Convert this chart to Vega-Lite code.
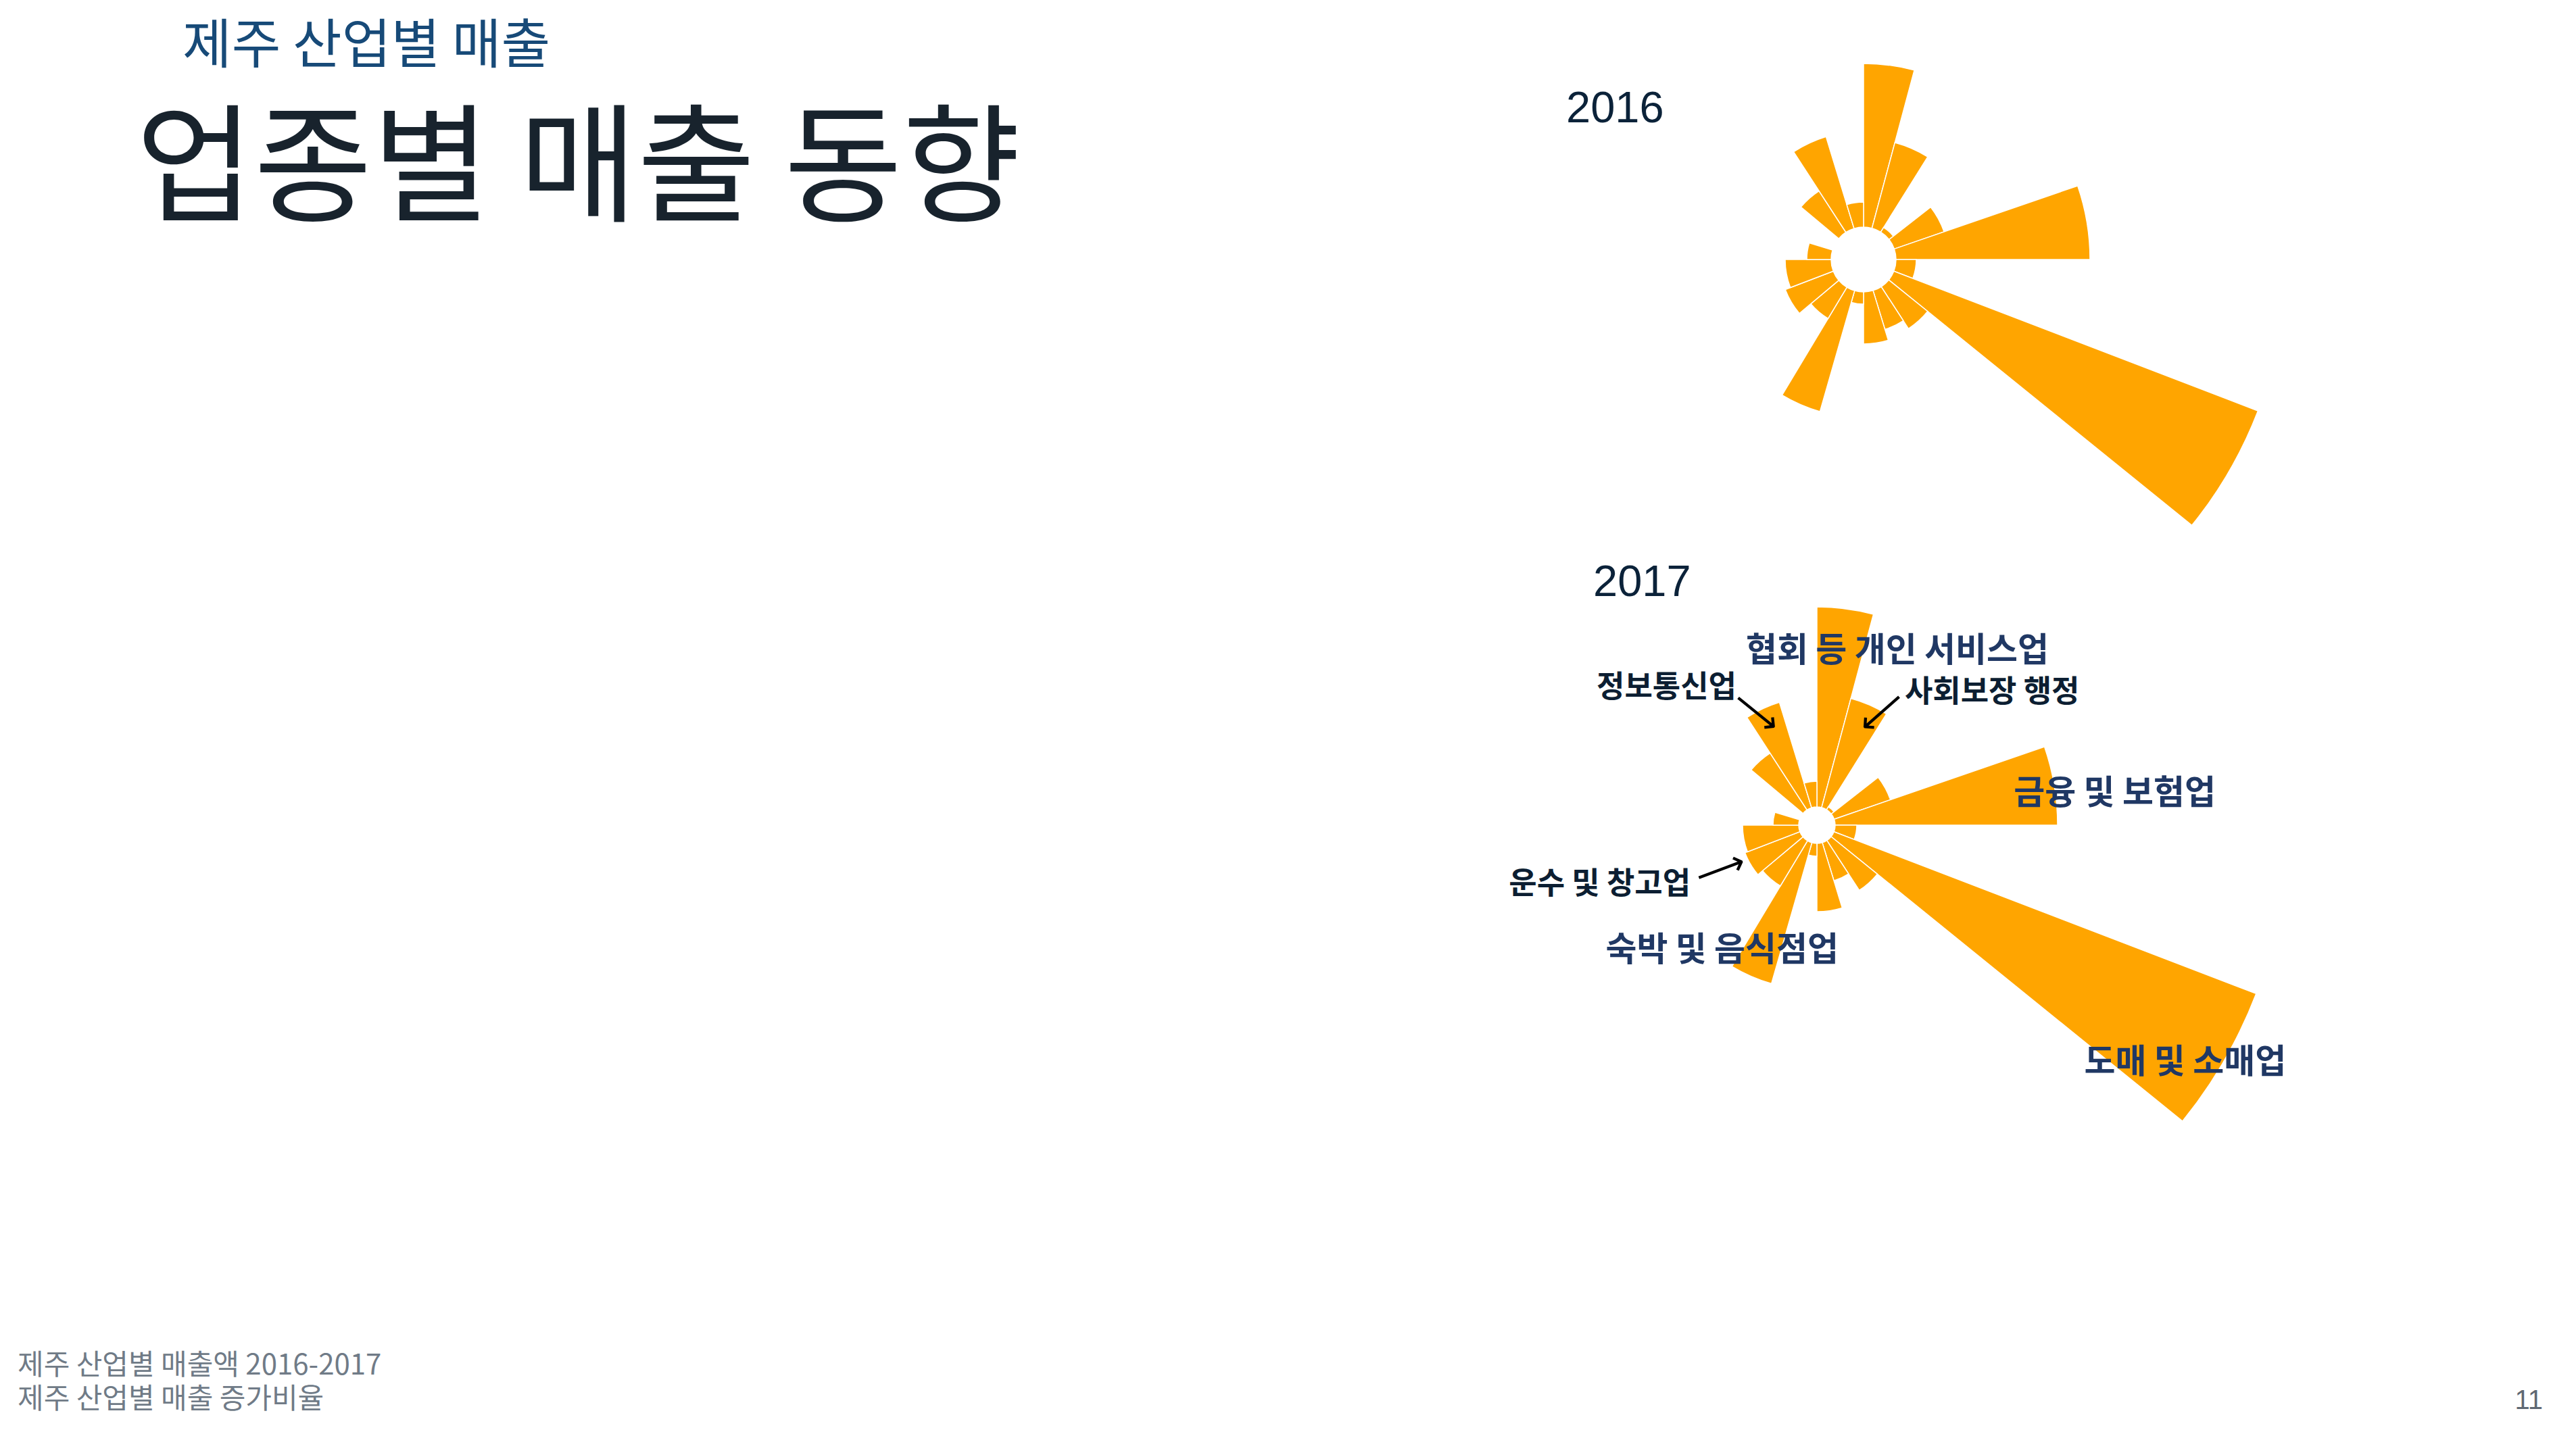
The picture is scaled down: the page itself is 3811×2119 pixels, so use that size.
{
  "$schema": "https://vega.github.io/schema/vega-lite/v6.json",
  "background": "white",
  "padding": {"left": 26, "top": 0, "right": 0, "bottom": 20},
  "config": {"view": {"stroke": null}},
  "datasets": {
    "sales": [
      {"year": 2016, "order": 1, "industry": "협회 및 단체, 수리 및 기타 개인 서비스업", "weight": 15, "value": 242},
      {"year": 2016, "order": 2, "industry": "공공 행정, 국방 및 사회보장 행정", "weight": 17, "value": 131},
      {"year": 2016, "order": 3, "industry": "광업", "weight": 20, "value": 8},
      {"year": 2016, "order": 4, "industry": "교육 서비스업", "weight": 19, "value": 78},
      {"year": 2016, "order": 5, "industry": "금융 및 보험업", "weight": 19, "value": 287},
      {"year": 2016, "order": 6, "industry": "농업, 임업 및 어업", "weight": 21, "value": 30},
      {"year": 2016, "order": 7, "industry": "도매 및 소매업", "weight": 18, "value": 577},
      {"year": 2016, "order": 8, "industry": "보건업 및 사회복지 서비스업", "weight": 18, "value": 74},
      {"year": 2016, "order": 9, "industry": "부동산업", "weight": 16, "value": 60},
      {"year": 2016, "order": 10, "industry": "사업시설 관리, 사업 지원 및 임대 서비스업", "weight": 17, "value": 77},
      {"year": 2016, "order": 11, "industry": "수도, 하수 및 폐기물 처리, 원료 재생업", "weight": 16, "value": 18},
      {"year": 2016, "order": 12, "industry": "숙박 및 음식점업", "weight": 15, "value": 186},
      {"year": 2016, "order": 13, "industry": "예술, 스포츠 및 여가관련 서비스업", "weight": 19, "value": 54},
      {"year": 2016, "order": 14, "industry": "운수 및 창고업", "weight": 19, "value": 76},
      {"year": 2016, "order": 15, "industry": "전기, 가스, 증기 및 공기조절 공급업", "weight": 21, "value": 68},
      {"year": 2016, "order": 16, "industry": "전문, 과학 및 기술 서비스업", "weight": 17, "value": 36},
      {"year": 2016, "order": 17, "industry": "국제 및 외국기관", "weight": 23, "value": 0},
      {"year": 2016, "order": 18, "industry": "건설업", "weight": 17, "value": 73},
      {"year": 2016, "order": 19, "industry": "정보통신업", "weight": 16, "value": 142},
      {"year": 2016, "order": 20, "industry": "제조업", "weight": 17, "value": 37},
      {"year": 2017, "order": 1, "industry": "협회 및 단체, 수리 및 기타 개인 서비스업", "weight": 15, "value": 296, "label": "협회 등 개인 서비스업"},
      {"year": 2017, "order": 2, "industry": "공공 행정, 국방 및 사회보장 행정", "weight": 17, "value": 167, "label": "사회보장 행정"},
      {"year": 2017, "order": 3, "industry": "광업", "weight": 20, "value": 5},
      {"year": 2017, "order": 4, "industry": "교육 서비스업", "weight": 19, "value": 88},
      {"year": 2017, "order": 5, "industry": "금융 및 보험업", "weight": 19, "value": 329, "label": "금융 및 보험업"},
      {"year": 2017, "order": 6, "industry": "농업, 임업 및 어업", "weight": 21, "value": 32},
      {"year": 2017, "order": 7, "industry": "도매 및 소매업", "weight": 18, "value": 669, "label": "도매 및 소매업"},
      {"year": 2017, "order": 8, "industry": "보건업 및 사회복지 서비스업", "weight": 18, "value": 88},
      {"year": 2017, "order": 9, "industry": "부동산업", "weight": 16, "value": 59},
      {"year": 2017, "order": 10, "industry": "사업시설 관리, 사업 지원 및 임대 서비스업", "weight": 17, "value": 101},
      {"year": 2017, "order": 11, "industry": "수도, 하수 및 폐기물 처리, 원료 재생업", "weight": 16, "value": 19},
      {"year": 2017, "order": 12, "industry": "숙박 및 음식점업", "weight": 15, "value": 217, "label": "숙박 및 음식점업"},
      {"year": 2017, "order": 13, "industry": "예술, 스포츠 및 여가관련 서비스업", "weight": 19, "value": 78},
      {"year": 2017, "order": 14, "industry": "운수 및 창고업", "weight": 19, "value": 87, "label": "운수 및 창고업"},
      {"year": 2017, "order": 15, "industry": "전기, 가스, 증기 및 공기조절 공급업", "weight": 21, "value": 83},
      {"year": 2017, "order": 16, "industry": "전문, 과학 및 기술 서비스업", "weight": 17, "value": 38},
      {"year": 2017, "order": 17, "industry": "국제 및 외국기관", "weight": 23, "value": 0},
      {"year": 2017, "order": 18, "industry": "건설업", "weight": 17, "value": 100},
      {"year": 2017, "order": 19, "industry": "정보통신업", "weight": 16, "value": 163, "label": "정보통신업"},
      {"year": 2017, "order": 20, "industry": "제조업", "weight": 17, "value": 38}
    ]
  },
  "title": {"text": "제주 산업별 매출", "anchor": "start", "frame": "group", "orient": "top", "dx": -1489, "offset": -111, "font": "Noto Sans CJK KR", "fontSize": 79, "fontWeight": "normal", "color": "#174a78", "baseline": "top"},
  "bounds": "flush",
  "spacing": 0,
  "vconcat": [
    {
      "title": {"text": "업종별 매출 동향", "anchor": "start", "frame": "group", "orient": "top", "dx": -1558, "offset": -353, "font": "Noto Sans CJK KR", "fontSize": 190, "fontWeight": "normal", "color": "#18232d", "baseline": "top"},
      "bounds": "flush",
      "spacing": 0,
      "vconcat": [
        {
          "title": {"text": ["제주 산업별 매출액 2016-2017", "제주 산업별 매출 증가비율"], "anchor": "start", "frame": "group", "orient": "bottom", "dx": -1733, "offset": -92, "font": "Noto Sans CJK KR", "fontSize": 42, "lineHeight": 50, "fontWeight": "normal", "color": "#707b87", "baseline": "top"},
          "bounds": "flush",
          "spacing": 0,
          "vconcat": [
            {
              "title": {"text": "11", "anchor": "end", "frame": "bounds", "orient": "bottom", "dx": 7, "offset": 379, "font": "Liberation Sans", "fontSize": 40, "fontWeight": "normal", "color": "#5f6873", "baseline": "top"},
              "bounds": "flush",
              "spacing": 0,
              "vconcat": [
                {
                  "width": 1996,
                  "height": 768,
                  "title": {"text": "2016", "anchor": "start", "frame": "group", "dx": 558, "offset": -195, "font": "Liberation Sans", "fontSize": 65, "fontWeight": "normal", "color": "#0b2239", "baseline": "top"},
                  "data": {"name": "sales"},
                  "transform": [
                    {"filter": "datum.year == 2016"},
                    {"stack": "weight", "groupby": ["year"], "sort": [{"field": "order", "order": "ascending"}], "as": ["t0", "t1"]}
                  ],
                  "mark": {"type": "arc", "color": "#FFA500", "stroke": "#ffffff", "strokeWidth": 1.5},
                  "encoding": {
                    "theta": {"field": "t0", "type": "quantitative", "stack": null, "scale": {"domain": [0, 360]}},
                    "theta2": {"field": "t1"},
                    "radius": {"field": "value", "type": "quantitative", "scale": {"domain": [0, 600], "range": [48, 648]}},
                    "radius2": {"datum": 0}
                  }
                },
                {
                  "width": 1858,
                  "height": 906,
                  "title": {"text": "2017", "anchor": "start", "frame": "group", "dx": 598, "offset": -128, "font": "Liberation Sans", "fontSize": 65, "fontWeight": "normal", "color": "#0b2239", "baseline": "top"},
                  "data": {"name": "sales"},
                  "transform": [
                    {"filter": "datum.year == 2017"},
                    {"stack": "weight", "groupby": ["year"], "sort": [{"field": "order", "order": "ascending"}], "as": ["t0", "t1"]}
                  ],
                  "encoding": {
                    "theta": {"field": "t0", "type": "quantitative", "stack": null, "scale": {"domain": [0, 360]}},
                    "radius": {"field": "value", "type": "quantitative", "scale": {"domain": [0, 700], "range": [27, 727]}}
                  },
                  "layer": [
                    {
                      "mark": {"type": "arc", "color": "#FFA500", "stroke": "#ffffff", "strokeWidth": 1.5},
                      "encoding": {"theta2": {"field": "t1"}, "radius2": {"datum": 0}}
                    },
                    {
                      "transform": [{"filter": "datum.order == 1"}],
                      "mark": {"type": "text", "font": "Noto Sans CJK KR", "fontWeight": "bold", "fontSize": 50, "color": "#203864", "align": "center", "baseline": "middle", "dx": 119, "dy": 66},
                      "encoding": {"text": {"field": "label"}}
                    },
                    {
                      "transform": [{"filter": "datum.order == 5"}],
                      "mark": {"type": "text", "font": "Noto Sans CJK KR", "fontWeight": "bold", "fontSize": 50, "color": "#203864", "align": "center", "baseline": "middle", "dx": 104, "dy": 70},
                      "encoding": {"text": {"field": "label"}}
                    },
                    {
                      "transform": [{"filter": "datum.order == 7"}],
                      "mark": {"type": "text", "font": "Noto Sans CJK KR", "fontWeight": "bold", "fontSize": 50, "color": "#203864", "align": "center", "baseline": "middle", "dx": -105, "dy": 103},
                      "encoding": {"text": {"field": "label"}}
                    },
                    {
                      "transform": [{"filter": "datum.order == 12"}],
                      "mark": {"type": "text", "font": "Noto Sans CJK KR", "fontWeight": "bold", "fontSize": 50, "color": "#203864", "align": "center", "baseline": "middle", "dx": -73, "dy": -49},
                      "encoding": {"text": {"field": "label"}}
                    },
                    {
                      "transform": [{"filter": "datum.order == 2"}],
                      "mark": {"type": "text", "font": "Noto Sans CJK KR", "fontWeight": "bold", "fontSize": 45, "color": "#0c1e32", "align": "center", "baseline": "middle", "dx": 209, "dy": -9},
                      "encoding": {"text": {"field": "label"}}
                    },
                    {
                      "transform": [{"filter": "datum.order == 14"}],
                      "mark": {"type": "text", "font": "Noto Sans CJK KR", "fontWeight": "bold", "fontSize": 45, "color": "#0c1e32", "align": "center", "baseline": "middle", "dx": -234, "dy": 15},
                      "encoding": {"text": {"field": "label"}}
                    },
                    {
                      "transform": [{"filter": "datum.order == 19"}],
                      "mark": {"type": "text", "font": "Noto Sans CJK KR", "fontWeight": "bold", "fontSize": 45, "color": "#0c1e32", "align": "center", "baseline": "middle", "dx": -119, "dy": -44},
                      "encoding": {"text": {"field": "label"}}
                    },
                    {
                      "transform": [{"filter": "datum.order == 19"}],
                      "mark": {"type": "text", "font": "DejaVu Sans", "fontSize": 52, "color": "#000000", "align": "center", "baseline": "middle", "angle": 39, "dx": 6, "dy": -14},
                      "encoding": {"text": {"value": "⟶"}}
                    },
                    {
                      "transform": [{"filter": "datum.order == 2"}],
                      "mark": {"type": "text", "font": "DejaVu Sans", "fontSize": 52, "color": "#000000", "align": "center", "baseline": "middle", "angle": 138.7, "dx": -21, "dy": -45},
                      "encoding": {"text": {"value": "⟶"}}
                    },
                    {
                      "transform": [{"filter": "datum.order == 14"}],
                      "mark": {"type": "text", "font": "DejaVu Sans", "fontSize": 52, "color": "#000000", "align": "center", "baseline": "middle", "angle": -20.4, "dx": -49, "dy": -26},
                      "encoding": {"text": {"value": "⟶"}}
                    }
                  ]
                }
              ]
            }
          ]
        }
      ]
    }
  ]
}
